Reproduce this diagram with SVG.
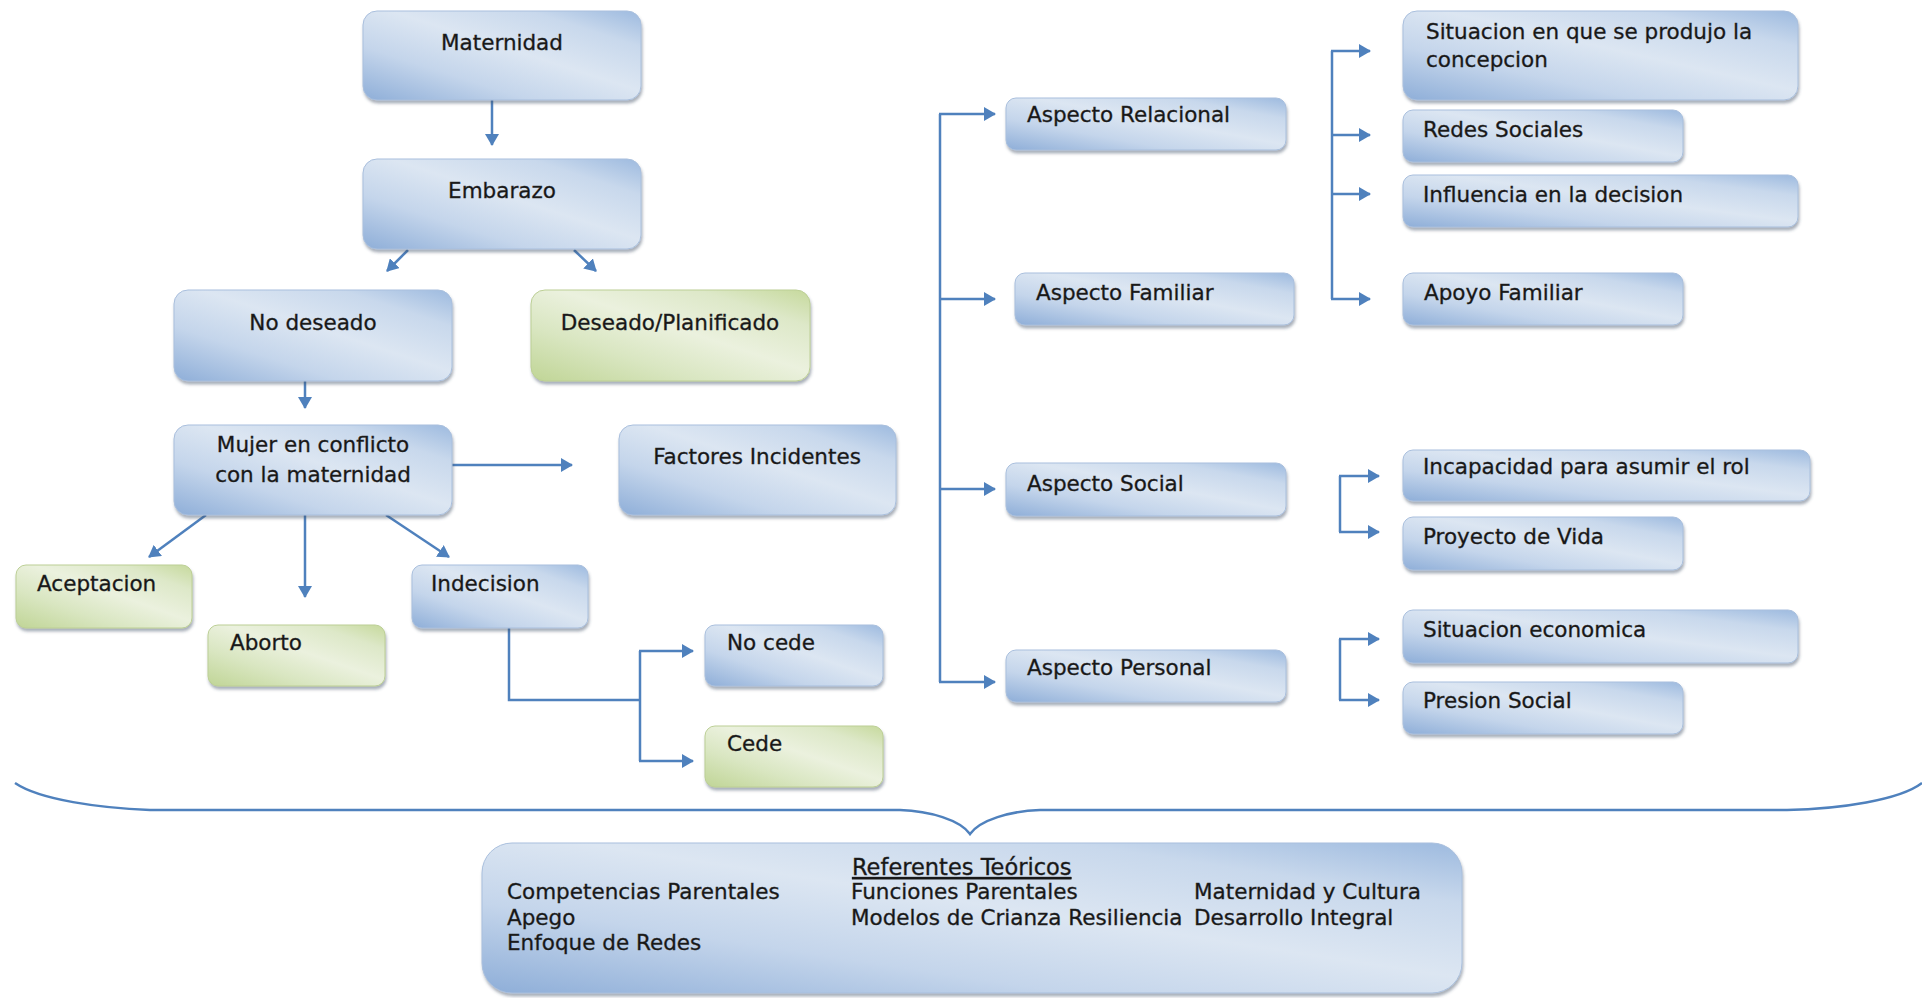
<svg xmlns="http://www.w3.org/2000/svg" width="1922" height="998" viewBox="0 0 1922 998">
<defs>
<linearGradient id="gb" x1="0" y1="1" x2="1" y2="0">
<stop offset="0" stop-color="#8eaed8"/>
<stop offset="0.3" stop-color="#c4d5eb"/>
<stop offset="0.55" stop-color="#dce6f2"/>
<stop offset="0.8" stop-color="#c8d8ec"/>
<stop offset="1" stop-color="#9dbadf"/>
</linearGradient>
<linearGradient id="gg" x1="0" y1="1" x2="1" y2="0">
<stop offset="0" stop-color="#c0d596"/>
<stop offset="0.3" stop-color="#d9e6c1"/>
<stop offset="0.55" stop-color="#ebf1de"/>
<stop offset="0.8" stop-color="#dde8c8"/>
<stop offset="1" stop-color="#c6d99c"/>
</linearGradient>
<filter id="sh" x="-5%" y="-10%" width="110%" height="130%">
<feDropShadow dx="1" dy="3" stdDeviation="1.5" flood-color="#3f4f66" flood-opacity="0.45"/>
</filter>
<marker id="arr" markerUnits="userSpaceOnUse" markerWidth="12" markerHeight="14" viewBox="0 0 12 14" refX="11" refY="7" orient="auto">
<path d="M0,0 L12,7 L0,14 z" fill="#4f81bd"/>
</marker>
</defs>
<style>
.b{fill:url(#gb);stroke:#a9bfdd;stroke-width:1;filter:url(#sh)}
.g{fill:url(#gg);stroke:#bccf95;stroke-width:1;filter:url(#sh)}
.t{font-family:"DejaVu Sans","Liberation Sans",sans-serif;font-size:21.5px;fill:#161616;stroke:#2a2a2a;stroke-width:0.35}
.c{text-anchor:middle}
.ln{fill:none;stroke:#4f81bd;stroke-width:2.5}
.a{marker-end:url(#arr)}
</style>
<rect width="1922" height="998" fill="#ffffff"/>

<g id="connectors">
<path class="ln a" d="M492,100 L492,145"/>
<path class="ln a" d="M408,250 L387,271"/>
<path class="ln a" d="M574,250 L596,271"/>
<path class="ln a" d="M305,381 L305,408"/>
<path class="ln a" d="M452,465 L572,465"/>
<path class="ln a" d="M206,515 L149,557"/>
<path class="ln a" d="M305,515 L305,597"/>
<path class="ln a" d="M386,515 L449,557"/>
<path class="ln" d="M509,628 L509,700 L640,700"/>
<path class="ln" d="M640,651 L640,761"/>
<path class="ln a" d="M639,651 L693,651"/>
<path class="ln a" d="M639,761 L693,761"/>
<path class="ln" d="M940,114 L940,682"/>
<path class="ln a" d="M939,114 L995,114"/>
<path class="ln a" d="M939,299 L995,299"/>
<path class="ln a" d="M939,489 L995,489"/>
<path class="ln a" d="M939,682 L995,682"/>
<path class="ln" d="M1332,51 L1332,299"/>
<path class="ln a" d="M1331,51 L1370,51"/>
<path class="ln a" d="M1331,135 L1370,135"/>
<path class="ln a" d="M1331,194 L1370,194"/>
<path class="ln a" d="M1331,299 L1370,299"/>
<path class="ln" d="M1340,476 L1340,532"/>
<path class="ln a" d="M1339,476 L1379,476"/>
<path class="ln a" d="M1339,532 L1379,532"/>
<path class="ln" d="M1340,639 L1340,700"/>
<path class="ln a" d="M1339,639 L1379,639"/>
<path class="ln a" d="M1339,700 L1379,700"/>
<path class="ln" d="M15,783 C40,800 100,808 150,810 L900,810 C930,811 960,820 970,834 C980,820 1010,811 1040,810 L1787,810 C1840,809 1900,800 1922,783"/>
</g>

<g id="n-maternidad"><rect class="b" x="363" y="11" width="278" height="89" rx="14"/><text class="t c" x="502" y="50">Maternidad</text></g>
<g id="n-embarazo"><rect class="b" x="363" y="159" width="278" height="90" rx="14"/><text class="t c" x="502" y="198">Embarazo</text></g>
<g id="n-nodeseado"><rect class="b" x="174" y="290" width="278" height="91" rx="14"/><text class="t c" x="313" y="330">No deseado</text></g>
<g id="n-deseado"><rect class="g" x="531" y="290" width="279" height="91" rx="14"/><text class="t c" x="670" y="330">Deseado/Planificado</text></g>
<g id="n-mujer"><rect class="b" x="174" y="425" width="278" height="90" rx="14"/><text class="t c" x="313" y="452">Mujer en conflicto</text><text class="t c" x="313" y="482">con la maternidad</text></g>
<g id="n-factores"><rect class="b" x="619" y="425" width="277" height="90" rx="14"/><text class="t c" x="757" y="464">Factores Incidentes</text></g>
<g id="n-aceptacion"><rect class="g" x="16" y="565" width="176" height="63" rx="10"/><text class="t" x="37" y="591">Aceptacion</text></g>
<g id="n-aborto"><rect class="g" x="208" y="625" width="177" height="61" rx="10"/><text class="t" x="230" y="650">Aborto</text></g>
<g id="n-indecision"><rect class="b" x="412" y="565" width="176" height="63" rx="10"/><text class="t" x="431" y="591">Indecision</text></g>
<g id="n-nocede"><rect class="b" x="705" y="625" width="178" height="61" rx="10"/><text class="t" x="727" y="650">No cede</text></g>
<g id="n-cede"><rect class="g" x="705" y="726" width="178" height="61" rx="10"/><text class="t" x="727" y="751">Cede</text></g>

<g id="n-relacional"><rect class="b" x="1006" y="98" width="280" height="52" rx="10"/><text class="t" x="1027" y="122">Aspecto Relacional</text></g>
<g id="n-familiar"><rect class="b" x="1015" y="273" width="279" height="52" rx="10"/><text class="t" x="1036" y="300">Aspecto Familiar</text></g>
<g id="n-social"><rect class="b" x="1006" y="463" width="280" height="53" rx="10"/><text class="t" x="1027" y="491">Aspecto Social</text></g>
<g id="n-personal"><rect class="b" x="1006" y="650" width="280" height="52" rx="10"/><text class="t" x="1027" y="675">Aspecto Personal</text></g>

<g id="n-situacion"><rect class="b" x="1403" y="11" width="395" height="89" rx="14"/><text class="t" x="1426" y="39">Situacion en que se produjo la</text><text class="t" x="1426" y="67">concepcion</text></g>
<g id="n-redes"><rect class="b" x="1403" y="110" width="280" height="52" rx="10"/><text class="t" x="1423" y="137">Redes Sociales</text></g>
<g id="n-influencia"><rect class="b" x="1403" y="175" width="395" height="52" rx="10"/><text class="t" x="1423" y="202">Influencia en la decision</text></g>
<g id="n-apoyo"><rect class="b" x="1403" y="273" width="280" height="52" rx="10"/><text class="t" x="1424" y="300">Apoyo Familiar</text></g>
<g id="n-incapacidad"><rect class="b" x="1403" y="450" width="407" height="51" rx="10"/><text class="t" x="1423" y="474">Incapacidad para asumir el rol</text></g>
<g id="n-proyecto"><rect class="b" x="1403" y="517" width="280" height="53" rx="10"/><text class="t" x="1423" y="544">Proyecto de Vida</text></g>
<g id="n-economica"><rect class="b" x="1403" y="610" width="395" height="53" rx="10"/><text class="t" x="1423" y="637">Situacion economica</text></g>
<g id="n-presion"><rect class="b" x="1403" y="682" width="280" height="52" rx="10"/><text class="t" x="1423" y="708">Presion Social</text></g>

<g id="n-referentes"><rect class="b" x="482" y="843" width="980" height="150" rx="30"/>
<text class="t" x="852" y="875" style="font-size:22.5px" text-decoration="underline">Referentes Teóricos</text>
<text class="t" x="507" y="899">Competencias Parentales</text>
<text class="t" x="507" y="925">Apego</text>
<text class="t" x="507" y="950">Enfoque de Redes</text>
<text class="t" x="851" y="899">Funciones Parentales</text>
<text class="t" x="851" y="925">Modelos de Crianza Resiliencia</text>
<text class="t" x="1194" y="899">Maternidad y Cultura</text>
<text class="t" x="1194" y="925">Desarrollo Integral</text>
</g>
</svg>
